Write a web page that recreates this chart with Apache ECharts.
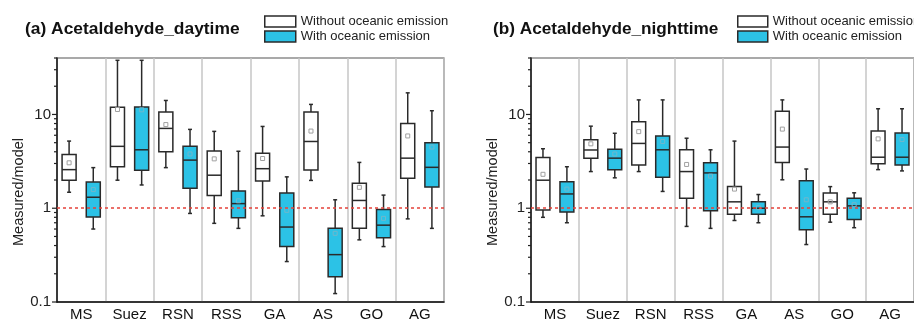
<!DOCTYPE html>
<html><head><meta charset="utf-8">
<script src="https://cdn.jsdelivr.net/npm/echarts@6/dist/echarts.min.js"></script>
<style>html,body{margin:0;padding:0;background:#fff}#c{width:914px;height:322px}</style>
</head><body><div id="c"></div>
<script>
const categories = ['MS','Suez','RSN','RSS','GA','AS','GO','AG'];
const seriesNames = ['Without oceanic emission','With oceanic emission'];
const panelTitles = ['(a) Acetaldehyde_daytime','(b) Acetaldehyde_nighttime'];
const yLabel = 'Measured/model';
const yTickMajor = [0.1, 1, 10];
const yTickMinor = [0.2,0.3,0.4,0.5,0.6,0.7,0.8,0.9,2,3,4,5,6,7,8,9,20,30,40];
const refLine = 1;
// [min, Q1, median, Q3, max]
const dayWithout = [[1.48,1.99,2.58,3.73,5.2],[1.99,2.77,4.57,11.9,37.8],[2.71,4.01,7.1,10.6,14.1],[0.69,1.37,2.25,4.07,6.6],[0.83,1.95,2.64,3.86,7.45],[1.98,2.56,5.15,10.6,12.8],[0.46,0.61,1.21,1.85,3.08],[0.77,2.09,3.42,8.0,17.0]];
const dayWithoutMean = [3.05,11.3,7.8,3.36,3.39,6.65,1.67,5.9];
const dayWith = [[0.60,0.805,1.31,1.90,2.71],[1.77,2.54,4.2,12.0,37.8],[0.88,1.63,3.26,4.57,6.93],[0.61,0.79,1.12,1.53,4.05],[0.27,0.39,0.63,1.45,2.16],[0.123,0.186,0.32,0.61,1.23],[0.39,0.485,0.66,0.97,1.38],[0.61,1.68,2.73,4.98,10.96]];
const dayWithMean = [1.58,11.2,3.79,1.2,0.95,0.54,0.78,4.49];
const nightWithout = [[0.80,0.96,1.99,3.47,4.31],[2.46,3.42,4.18,5.36,7.5],[2.46,2.89,4.91,8.35,14.3],[0.64,1.28,2.46,4.2,5.58],[0.74,0.86,1.17,1.71,5.2],[2.01,3.08,4.49,10.8,14.3],[0.71,0.86,1.17,1.45,1.70],[2.58,2.98,3.5,6.65,11.5]];
const nightWithoutMean = [2.30,4.86,6.56,2.93,1.6,6.98,1.17,5.49];
const nightWith = [[0.70,0.91,1.42,1.92,2.77],[2.11,2.58,3.42,4.25,6.3],[1.51,2.14,4.2,5.9,14.3],[0.61,0.94,2.38,3.05,4.2],[0.70,0.865,1.0,1.17,1.40],[0.41,0.59,0.81,1.96,2.62],[0.62,0.76,1.06,1.28,1.46],[2.5,2.89,3.5,6.34,11.5]];
const nightWithMean = [1.60,3.79,5.15,2.2,1.02,1.23,1.09,5.4];

const FONT = '"Liberation Sans", Arial, sans-serif';
const CYAN = '#2cc2e6';
const chart = echarts.init(document.getElementById('c'), null, {renderer:'canvas'});

function boxData(stats, means){
  return stats.map((s,i)=>[i, s[0], s[1], s[2], s[3], s[4], means[i]]);
}
function makeBoxRender(side, fill, meanColor){
  return function(params, api){
    const i = api.value(0);
    const band = api.size([1,1])[0];
    const cx = api.coord([i, 1])[0] + side*band*0.25;
    const bw = band*0.29;
    const y = k => api.coord([i, api.value(k)])[1];
    const yMin=y(1), yQ1=y(2), yMed=y(3), yQ3=y(4), yMax=y(5), yMean=y(6);
    const ls = {stroke:'#2a2a2a', lineWidth:1.5};
    return {type:'group', children:[
      {type:'line', shape:{x1:cx,y1:yQ3,x2:cx,y2:yMax}, style:ls},
      {type:'line', shape:{x1:cx,y1:yQ1,x2:cx,y2:yMin}, style:ls},
      {type:'line', shape:{x1:cx-2,y1:yMax,x2:cx+2,y2:yMax}, style:ls},
      {type:'line', shape:{x1:cx-2,y1:yMin,x2:cx+2,y2:yMin}, style:ls},
      {type:'rect', shape:{x:cx-bw/2,y:yQ3,width:bw,height:yQ1-yQ3}, style:{fill:fill, stroke:'#2a2a2a', lineWidth:1.5}},
      {type:'line', shape:{x1:cx-bw/2,y1:yMed,x2:cx+bw/2,y2:yMed}, style:{stroke:'#2a2a2a', lineWidth:1.5}},
      {type:'rect', shape:{x:cx-2,y:yMean-2,width:4,height:4}, style:{fill:'none', stroke:meanColor, lineWidth:1}}
    ]};
  };
}
function tickRender(params, api){
  const v = api.value(1);
  const len = api.value(2);
  const yy = api.coord([0, v])[1];
  const x0 = params.coordSys.x;
  return {type:'line', shape:{x1:x0-len,y1:yy,x2:x0,y2:yy}, style:{stroke:'#222', lineWidth:1.2}};
}
const tickData = yTickMajor.map(v=>[0,v,5]).concat(yTickMinor.map(v=>[0,v,3]));

const grids = [
  {left:57, right:470, top:58, bottom:17, show:true, borderColor:'#555', borderWidth:1.2},
  {left:531, right:-3, top:58, bottom:17, show:true, borderColor:'#555', borderWidth:1.2}
];
const xAxes = [0,1].map(g=>({
  type:'category', gridIndex:g, data:categories, boundaryGap:true,
  axisTick:{show:false},
  axisLine:{lineStyle:{color:'#111', width:1.5}},
  axisLabel:{fontSize:15, color:'#111', fontFamily:FONT, margin:5},
  splitLine:{show:true, lineStyle:{color:'#c6c6c6', width:1.5}}
}));
const yAxes = [0,1].map(g=>({
  type:'log', gridIndex:g, logBase:10, min:0.1, max:40,
  axisLine:{show:true, lineStyle:{color:'#111', width:1.5}},
  axisTick:{show:false}, splitLine:{show:false}, minorTick:{show:false},
  axisLabel:{fontSize:15, color:'#222', fontFamily:FONT, margin:6, showMaxLabel:false,
    formatter: v => { const l = Math.log10(v); if (Math.abs(l-Math.round(l))<1e-6 && v<=10) { return v<1 ? '0.1' : String(Math.round(v)); } return ''; }}
}));

const panels = [[dayWithout, dayWithoutMean, dayWith, dayWithMean],[nightWithout, nightWithoutMean, nightWith, nightWithMean]];
const series = [];
panels.forEach((p,g)=>{
  series.push({
    name:seriesNames[0], type:'custom', xAxisIndex:g, yAxisIndex:g,
    itemStyle:{color:'#fff', borderColor:'#2a2a2a', borderWidth:1.5},
    renderItem: makeBoxRender(-1, '#ffffff', '#a0a0a0'),
    encode:{x:0, y:[1,2,3,4,5,6]}, data: boxData(p[0], p[1]), z:3
  });
  series.push({
    name:seriesNames[1], type:'custom', xAxisIndex:g, yAxisIndex:g,
    itemStyle:{color:CYAN, borderColor:'#2a2a2a', borderWidth:1.5},
    renderItem: makeBoxRender(1, CYAN, '#6fb7cc'),
    encode:{x:0, y:[1,2,3,4,5,6]}, data: boxData(p[2], p[3]), z:3,
    markLine:{silent:true, symbol:'none', label:{show:false}, z:5,
      lineStyle:{color:'#e5413a', type:[3,3], width:1.5},
      data:[{yAxis:refLine}]}
  });
  series.push({
    name:'ticks'+g, type:'custom', xAxisIndex:g, yAxisIndex:g,
    renderItem: tickRender, encode:{x:0, y:1}, data: tickData, silent:true, z:4
  });
});

const legendItems = [
  {name:seriesNames[0], itemStyle:{color:'#fff', borderColor:'#2a2a2a', borderWidth:1.5}},
  {name:seriesNames[1], itemStyle:{color:CYAN, borderColor:'#2a2a2a', borderWidth:1.5}}
];
chart.setOption({
  animation:false,
  textStyle:{fontFamily:FONT},
  title:[
    {text:panelTitles[0], left:25, top:21, padding:0, textStyle:{fontSize:17.4, fontWeight:'bold', color:'#111', fontFamily:FONT}},
    {text:panelTitles[1], left:493, top:21, padding:0, textStyle:{fontSize:17.2, fontWeight:'bold', color:'#111', fontFamily:FONT}}
  ],
  legend:[
    {left:264, top:15, padding:0, orient:'vertical', itemGap:2, itemWidth:31, itemHeight:11, icon:'rect', selectedMode:false, data:legendItems, textStyle:{fontSize:13, color:'#222', fontFamily:FONT}},
    {left:737, top:15, padding:0, orient:'vertical', itemGap:2, itemWidth:30, itemHeight:11, icon:'rect', selectedMode:false, data:legendItems, textStyle:{fontSize:13, color:'#222', fontFamily:FONT}}
  ],
  graphic:[
    {type:'text', x:19, y:192, rotation:Math.PI/2, style:{text:yLabel, font:'14.5px '+FONT, fill:'#222', align:'center', verticalAlign:'middle'}},
    {type:'text', x:493, y:192, rotation:Math.PI/2, style:{text:yLabel, font:'14.5px '+FONT, fill:'#222', align:'center', verticalAlign:'middle'}}
  ],
  grid: grids, xAxis: xAxes, yAxis: yAxes, series: series
});
</script></body></html>
